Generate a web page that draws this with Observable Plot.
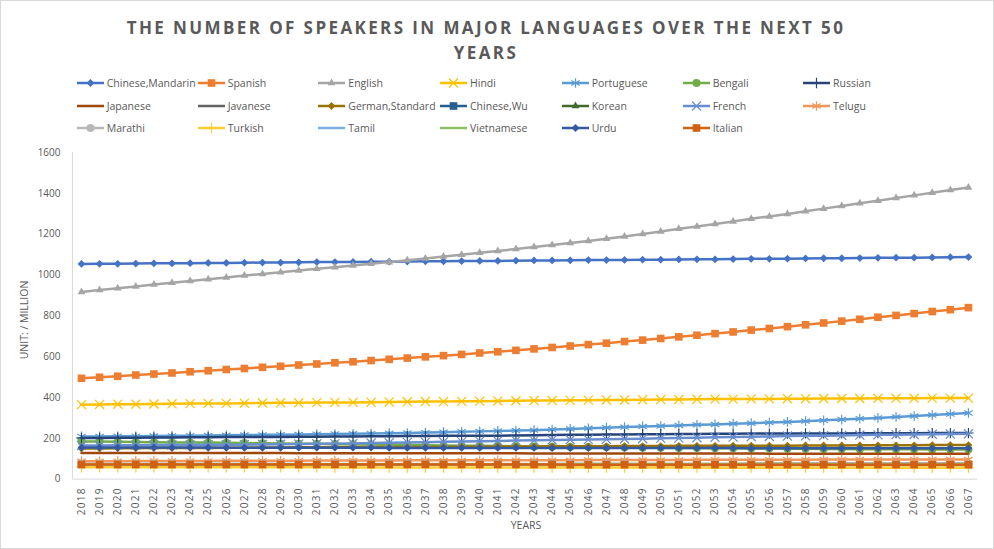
<!DOCTYPE html>
<html><head><meta charset="utf-8">
<script src="https://cdn.jsdelivr.net/npm/d3@7"></script>
<script src="https://cdn.jsdelivr.net/npm/@observablehq/plot@0.6"></script>
<style>
body{margin:0;background:#fff;font-family:"Open Sans",sans-serif;}
#wrap{position:relative;width:994px;height:549px;box-sizing:border-box;border:1px solid #d9d9d9;overflow:hidden;background:#fff;}
#title{position:absolute;left:-1px;top:14px;width:972px;text-align:center;font-weight:bold;font-size:17px;letter-spacing:2.4px;color:#595959;line-height:25px;}
#legend{position:absolute;left:-1px;top:-1px;width:994px;height:140px;}
.item{position:absolute;font-size:10.5px;color:#595959;height:16px;display:flex;align-items:center;white-space:nowrap;}
.item svg{margin-right:3px;}
#chart{position:absolute;left:-1px;top:139px;}
#ylab{position:absolute;left:23px;top:319px;transform:translate(-50%,-50%) rotate(-90deg);font-size:10.5px;color:#595959;white-space:nowrap;}
#xlab{position:absolute;left:525px;top:524px;transform:translate(-50%,-50%);font-size:10.5px;color:#595959;white-space:nowrap;}
#chart g[aria-label="x-axis tick label"] text{letter-spacing:1.3px;}
</style>
</head><body>
<div id="wrap">
  <div id="title">THE NUMBER OF SPEAKERS IN MAJOR LANGUAGES OVER THE NEXT 50<br>YEARS</div>
  <div id="legend"></div>
  <div id="chart"></div>
  <div id="ylab">UNIT: / MILLION</div>
  <div id="xlab">YEARS</div>
</div>
<script>
const years = [2018,2019,2020,2021,2022,2023,2024,2025,2026,2027,2028,2029,2030,2031,2032,2033,2034,2035,2036,2037,2038,2039,2040,2041,2042,2043,2044,2045,2046,2047,2048,2049,2050,2051,2052,2053,2054,2055,2056,2057,2058,2059,2060,2061,2062,2063,2064,2065,2066,2067];
const yTicks = [0,200,400,600,800,1000,1200,1400,1600];

const seriesNames = ["Chinese,Mandarin","Spanish","English","Hindi","Portuguese","Bengali","Russian",
  "Japanese","Javanese","German,Standard","Chinese,Wu","Korean","French","Telugu",
  "Marathi","Turkish","Tamil","Vietnamese","Urdu","Italian"];

const mandarin = [1054,1055,1055,1056,1057,1057,1058,1059,1059,1060,1061,1061,1062,1063,1063,1064,1065,1065,1066,1067,1067,1068,1069,1069,1070,1071,1071,1072,1073,1073,1074,1075,1075,1076,1077,1077,1078,1079,1079,1080,1081,1082,1082,1083,1084,1085,1085,1086,1087,1088];
const spanish = [494,499,504,510,515,520,526,531,537,542,548,553,559,564,570,575,581,587,593,599,605,611,618,624,631,638,645,652,659,666,674,681,689,697,705,713,721,730,738,747,756,765,774,783,793,802,811,821,830,840];
const english = [917,926,935,944,953,962,970,979,988,997,1005,1013,1022,1030,1038,1047,1055,1063,1072,1081,1090,1099,1109,1118,1127,1137,1147,1157,1167,1177,1189,1201,1213,1226,1238,1250,1262,1275,1287,1299,1312,1325,1338,1351,1364,1377,1390,1403,1416,1429];
const hindi = [365,366,367,367,368,369,370,371,371,372,373,374,374,375,376,376,377,378,379,380,380,381,382,383,384,385,385,386,387,388,388,389,390,390,391,392,392,393,393,394,394,395,395,395,396,396,396,397,397,397];
const portuguese = [209,209,210,210,211,212,213,214,215,216,217,218,219,220,221,222,223,225,226,228,230,232,234,236,238,240,243,246,249,252,255,258,260,263,266,268,271,274,277,280,284,288,292,296,300,305,309,314,319,324];
const bengali = [185,184,183,182,181,180,180,179,178,177,176,175,174,173,172,171,170,168,167,166,165,164,163,162,161,160,159,158,157,156,155,154,154,153,152,151,151,150,150,149,149,148,148,147,147,146,146,145,145,145];
const russian = [202,202,203,203,204,204,205,205,206,206,207,207,208,208,209,209,210,210,211,211,212,212,213,213,214,215,216,217,218,219,219,220,220,221,221,222,222,223,223,223,224,224,224,225,225,225,225,226,226,226];
const japanese = [128,128,128,128,128,128,128,128,128,128,128,128,127,127,127,127,127,127,127,127,127,127,127,127,127,126,126,126,126,126,126,126,126,126,126,126,126,126,125,125,125,125,125,125,125,125,125,125,125,125];
const javanese = [70,70,70,70,70,71,71,71,71,71,71,71,72,72,72,72,72,72,72,73,73,73,73,73,73,73,73,74,74,74,74,74,74,74,74,74,74,75,75,75,75,75,75,75,75,75,75,75,75,75];
const german = [150,150,151,151,152,152,153,153,154,154,155,155,156,156,157,157,157,158,158,158,159,159,159,160,160,160,161,161,161,161,162,162,162,163,163,163,164,164,164,164,165,165,165,166,166,166,166,167,167,167];
const chineseWu = [72,72,72,72,72,72,72,72,72,72,72,72,72,72,72,72,72,72,72,72,72,72,72,72,72,71,71,71,71,71,71,71,71,71,71,71,71,71,71,71,71,71,71,71,71,71,71,71,71,71];
const korean = [70,70,70,70,70,70,70,70,70,70,70,70,70,70,70,70,70,70,70,70,70,70,70,70,70,69,69,69,69,69,69,69,69,69,69,69,69,69,69,69,69,69,69,69,69,69,69,69,69,69];
const french = [165,165,166,166,167,167,168,168,169,169,170,171,172,173,174,175,177,178,180,181,183,184,186,187,189,190,192,193,194,195,197,198,200,201,203,205,206,208,209,211,212,213,214,216,217,218,219,220,221,222];
const telugu = [88,88,88,89,89,89,89,89,90,90,90,90,90,91,91,91,91,91,92,92,92,92,92,93,93,93,93,93,94,94,94,94,94,94,95,95,95,95,95,95,95,96,96,96,96,96,96,96,96,96];
const marathi = [75,75,75,75,75,75,75,75,75,75,75,75,74,74,74,74,74,74,74,74,74,74,74,74,74,74,74,74,74,74,74,73,73,73,73,73,73,73,73,73,73,73,73,73,73,73,73,73,73,73];
const turkish = [58,58,58,58,58,58,58,58,58,58,58,58,58,58,57,57,57,57,57,57,57,57,57,57,57,57,57,57,57,57,57,57,57,57,57,56,56,56,56,56,56,56,56,56,56,56,56,56,56,56];
const tamil = [70,70,70,70,70,70,70,70,70,70,70,70,70,70,70,70,70,70,70,70,70,70,70,70,70,70,70,70,70,70,70,70,70,70,70,70,70,70,70,70,70,70,70,70,70,70,70,70,70,70];
const vietnamese = [73,73,73,73,73,73,73,73,73,73,73,73,73,73,73,73,73,73,73,73,73,73,73,73,73,73,73,73,73,73,73,73,73,73,73,73,73,73,73,73,73,73,73,73,73,73,73,73,73,73];
const urdu = [155,155,155,155,155,155,155,155,154,154,154,154,154,154,154,154,154,153,153,153,153,153,153,153,153,153,152,152,152,152,152,152,152,152,152,152,152,151,151,151,151,151,151,151,151,151,151,151,151,151];
const italian = [72,72,72,72,72,72,72,72,72,72,72,72,72,72,72,72,72,72,72,72,72,72,72,72,72,72,72,71,71,71,71,71,71,71,71,71,71,71,71,71,71,71,71,71,71,71,71,71,71,71];

const seriesValues = [mandarin,spanish,english,hindi,portuguese,bengali,russian,japanese,javanese,german,chineseWu,korean,french,telugu,marathi,turkish,tamil,vietnamese,urdu,italian];

// styles
const seriesColors = ["#4472C4","#ED7D31","#A5A5A5","#FFC000","#5B9BD5","#70AD47","#264478",
  "#9E480E","#636363","#997300","#255E91","#43682B","#698ED0","#F1975A",
  "#B7B7B7","#FFCD33","#7CAFDD","#8CC168","#335AA1","#D26012"];
const seriesSymbols = ["diamond2","square","triangle","times","asterisk","circle","plus",
  null,null,"diamond2","square","triangle","times","asterisk",
  "circle","plus",null,null,"diamond2","square"];
const symbolR = {diamond2:3.5,square:4.3,triangle:2.9,times:4.2,asterisk:4.6,circle:4,plus:3.4};
const strokeSymbols = new Set(["times","asterisk","plus"]);

const rows = seriesNames.flatMap((name,i)=>years.map((year,j)=>({name, year, value: seriesValues[i][j]})));

const marks = [
  Plot.ruleX([2017.5], {y1:0, y2:1600, stroke:"#d9d9d9", strokeWidth:1}),
  Plot.ruleY([0], {stroke:"#d9d9d9", strokeWidth:1}),
  Plot.axisY({ticks:yTicks, tickSize:0, tickPadding:12, label:null, tickFormat:d=>String(d)}),
  Plot.axisX({ticks:years, tickSize:0, tickPadding:8, tickRotate:-90, label:null, tickFormat:d=>String(d)})
];
seriesNames.forEach((name,i)=>{
  const d = rows.filter(r=>r.name===name);
  const c = seriesColors[i];
  marks.push(Plot.line(d,{x:"year", y:"value", stroke:c, strokeWidth:2.5}));
  const s = seriesSymbols[i];
  if (s) {
    const isStroke = strokeSymbols.has(s);
    marks.push(Plot.dot(d,{x:"year", y:"value", symbol:s, r:symbolR[s],
      fill: isStroke ? "none" : c, stroke: isStroke ? c : "none", strokeWidth: isStroke ? 1.2 : 0}));
  }
});

const chart = Plot.plot({
  width:994, height:409,
  marginTop:12, marginBottom:70, marginLeft:72, marginRight:16,
  x:{type:"linear", domain:[2017.5,2067.5]},
  y:{domain:[0,1600]},
  style:{fontFamily:"Open Sans", fontSize:"10px", color:"#595959", background:"transparent"},
  marks
});
document.getElementById("chart").appendChild(chart);

// legend
const symType = {diamond2:d3.symbolDiamond2, square:d3.symbolSquare, triangle:d3.symbolTriangle,
  times:d3.symbolTimes, asterisk:d3.symbolAsterisk, circle:d3.symbolCircle, plus:d3.symbolPlus};
const colX = [76.7,197.7,318.3,440,561.7,682.7,803];
const rowY = [83.3,105.5,128];
const legend = document.getElementById("legend");
seriesNames.forEach((name,i)=>{
  const col = i % 7, row = Math.floor(i/7);
  const div = document.createElement("div");
  div.className = "item";
  div.style.left = colX[col] + "px";
  div.style.top = (rowY[row] - 8) + "px";
  const s = seriesSymbols[i];
  let marker = "";
  if (s) {
    const r = symbolR[s];
    const p = d3.symbol(symType[s], Math.PI*r*r)();
    const isStroke = strokeSymbols.has(s);
    marker = `<path transform="translate(13.5,7)" d="${p}" fill="${isStroke?"none":seriesColors[i]}" stroke="${isStroke?seriesColors[i]:"none"}" stroke-width="1.2"/>`;
  }
  div.innerHTML = `<svg width="27" height="14"><line x1="0" x2="27" y1="7" y2="7" stroke="${seriesColors[i]}" stroke-width="2.5"/>${marker}</svg><span>${name}</span>`;
  legend.appendChild(div);
});
</script>
</body></html>
